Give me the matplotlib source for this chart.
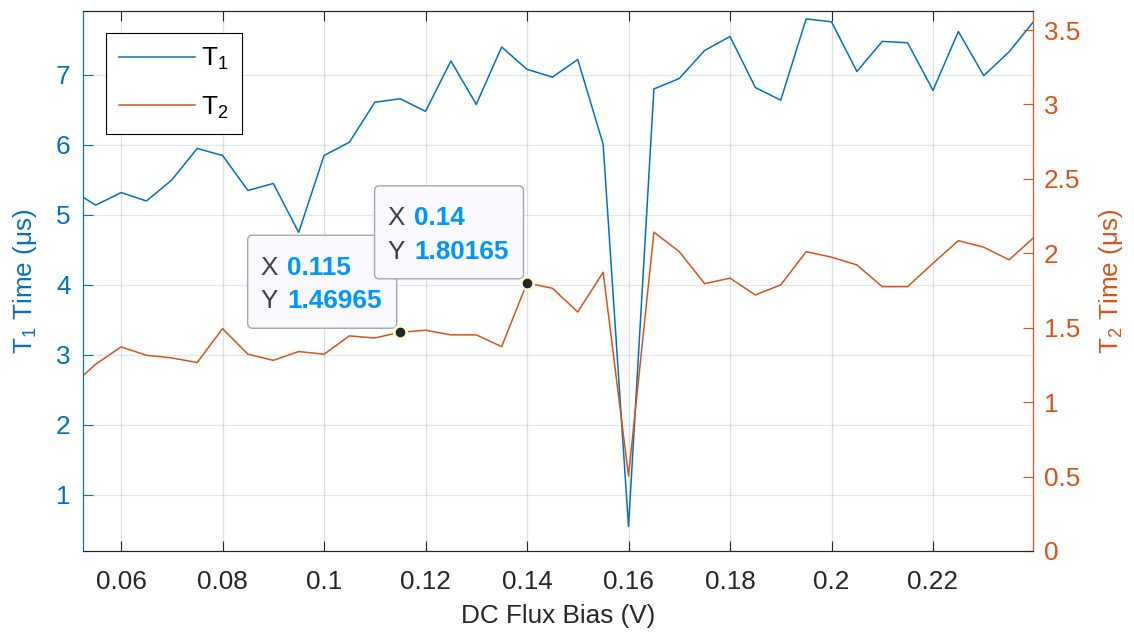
import matplotlib
matplotlib.use("Agg")
import matplotlib.pyplot as plt
import matplotlib.transforms as mtransforms
from matplotlib.patches import FancyBboxPatch
from matplotlib.ticker import FuncFormatter

plt.rcParams['font.family'] = ['Liberation Sans', 'DejaVu Sans']
plt.rcParams['mathtext.fontset'] = 'custom'
plt.rcParams['mathtext.rm'] = 'Liberation Sans'
plt.rcParams['mathtext.default'] = 'regular'

BLUE = '#0072BD'
ORANGE = '#D95319'
DARK = '#262626'
FS = 18.8

# DC flux bias (V)
flux_bias = [0.05, 0.055, 0.06, 0.065, 0.07, 0.075, 0.08, 0.085, 0.09, 0.095,
             0.1, 0.105, 0.11, 0.115, 0.12, 0.125, 0.13, 0.135, 0.14, 0.145,
             0.15, 0.155, 0.16, 0.165, 0.17, 0.175, 0.18, 0.185, 0.19, 0.195,
             0.2, 0.205, 0.21, 0.215, 0.22, 0.225, 0.23, 0.235, 0.24]

# T1 time (us)
t1_time = [5.37, 5.14, 5.32, 5.20, 5.50, 5.95, 5.85, 5.35, 5.45, 4.75,
           5.85, 6.04, 6.61, 6.66, 6.48, 7.20, 6.58, 7.40, 7.08, 6.97,
           7.22, 6.01, 0.55, 6.80, 6.95, 7.35, 7.55, 6.82, 6.64, 7.80,
           7.76, 7.05, 7.48, 7.46, 6.78, 7.62, 6.99, 7.33, 7.78]

# T2 time (us)
t2_time = [1.10, 1.255, 1.371, 1.315, 1.297, 1.266, 1.494, 1.322, 1.281, 1.34,
           1.322, 1.445, 1.431, 1.46965, 1.483, 1.452, 1.452, 1.373, 1.80165, 1.765,
           1.606, 1.873, 0.504, 2.142, 2.011, 1.796, 1.833, 1.72, 1.788, 2.011,
           1.974, 1.922, 1.776, 1.776, 1.933, 2.085, 2.041, 1.956, 2.11]

x_ticks = [0.06, 0.08, 0.1, 0.12, 0.14, 0.16, 0.18, 0.2, 0.22]
t1_ticks = [1, 2, 3, 4, 5, 6, 7]
t2_ticks = [0, 0.5, 1, 1.5, 2, 2.5, 3, 3.5]

# data tips on the T2 curve
tip_x = [0.115, 0.14]

fmt = FuncFormatter(lambda v, p: f"{v:g}")

fig = plt.figure(figsize=(11.34, 6.35), dpi=100)
ax1 = fig.add_axes([0.0732, 0.1323, 0.8377, 0.8504])
ax2 = ax1.twinx()

l1, = ax1.plot(flux_bias, t1_time, color=BLUE, lw=1.1, label='T$_1$')
l2, = ax2.plot(flux_bias, t2_time, color=ORANGE, lw=1.1, label='T$_2$')

ax1.set_xlim(0.0525, 0.2397)
ax1.set_ylim(0.2, 7.914)
ax2.set_ylim(0, 3.628)

ax1.set_xticks(x_ticks)
ax1.set_yticks(t1_ticks)
ax2.set_yticks(t2_ticks)
ax1.xaxis.set_major_formatter(fmt)
ax1.yaxis.set_major_formatter(fmt)
ax2.yaxis.set_major_formatter(fmt)

ax1.grid(axis='x', color=DARK, alpha=0.15, lw=0.9)
ax1.grid(axis='y', color=BLUE, alpha=0.15, lw=0.9)
ax1.set_axisbelow(True)

ax1.tick_params(axis='x', direction='in', top=True, length=7, width=0.8,
                colors=DARK, labelsize=FS, pad=14)
ax1.tick_params(axis='y', direction='in', length=7, width=0.8,
                colors=BLUE, labelsize=FS, pad=9)
ax2.tick_params(axis='y', direction='in', length=7, width=0.8,
                colors=ORANGE, labelsize=FS, pad=8)

for ax in (ax1, ax2):
    ax.spines['top'].set_color(DARK)
    ax.spines['bottom'].set_color(DARK)
    ax.spines['left'].set_color(BLUE)
    ax.spines['right'].set_color(ORANGE)
    for s in ax.spines.values():
        s.set_linewidth(0.8)

ax1.set_xlabel('DC Flux Bias (V)', fontsize=FS, color=DARK, labelpad=7)
ax1.set_ylabel('T$_1$ Time (μs)', fontsize=FS, color=BLUE, labelpad=12)
ax2.set_ylabel('T$_2$ Time (μs)', fontsize=FS, color=ORANGE, labelpad=12)

leg = ax2.legend([l1, l2], ['T$_1$', 'T$_2$'], loc='upper left',
                 bbox_to_anchor=(0.0242, 0.959), borderaxespad=0,
                 fancybox=False, edgecolor='black', framealpha=1,
                 handlelength=2.9, handletextpad=0.25, labelspacing=0.85,
                 borderpad=0.5, fontsize=FS)
leg.get_frame().set_linewidth(0.8)


def draw_tip(ax, x, y):
    # offsets in inches from the data point
    tr = fig.dpi_scale_trans + mtransforms.ScaledTranslation(x, y, ax.transData)
    box = FancyBboxPatch((-1.525, 0.04), 1.49, 0.93,
                         boxstyle='round,pad=0,rounding_size=0.05',
                         transform=tr, facecolor='#F9F9FE', edgecolor='#A6A6A6',
                         lw=1.0, zorder=20, clip_on=False)
    ax.add_patch(box)
    ax.text(-1.40, 0.575, 'X', transform=tr, color='#404040', fontsize=FS,
            va='baseline', ha='left', zorder=21)
    ax.text(-1.13, 0.575, f"{x:g}", transform=tr, color='#0096FF', fontsize=FS,
            fontweight='bold', va='baseline', ha='left', zorder=21)
    ax.text(-1.40, 0.24, 'Y', transform=tr, color='#404040', fontsize=FS,
            va='baseline', ha='left', zorder=21)
    ax.text(-1.13, 0.24, f"{y:g}", transform=tr, color='#0096FF', fontsize=FS,
            fontweight='bold', va='baseline', ha='left', zorder=21)
    ax.plot([x], [y], 'o', ms=9, mfc=DARK, mec='#FFFFD8', mew=2,
            zorder=22, clip_on=False)


for tx in tip_x:
    i = flux_bias.index(tx)
    draw_tip(ax2, flux_bias[i], t2_time[i])

fig.savefig('out.png', dpi=100)
